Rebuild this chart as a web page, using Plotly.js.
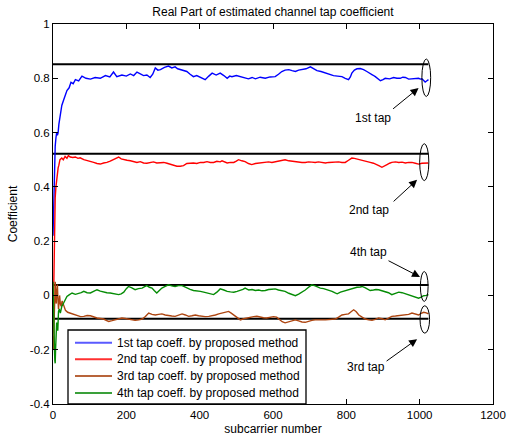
<!DOCTYPE html>
<html>
<head>
<meta charset="utf-8">
<script src="https://cdn.plot.ly/plotly-3.0.1.min.js"></script>
<style>html,body{margin:0;padding:0;background:#fff;}#chart{width:507px;height:440px;}</style>
</head>
<body>
<div id="chart"></div>
<script>
// ---- data ----
const seriesNames = ["1st tap coeff. by proposed method","2nd tap coeff. by proposed method","3rd tap coeff. by proposed method","4th tap coeff. by proposed method"];

const tap1X = [0,1,2,3,4,5,6,8,10,12,14,16,20,24,29,34,38,44,49,55,61,70,79,90,102,115,129,143,155,165,174,188,200,211,220,229,238,247,256,265,272,279,286,293,304,315,324,333,340,347,356,365,374,383,392,402,408,415,425,434,445,456,466,475,482,488,500,511,522,533,543,552,565,579,592,606,615,624,633,643,652,661,670,679,690,702,711,720,731,743,754,765,776,788,797,806,811,815,822,829,838,847,856,865,872,879,886,893,900,906,918,929,938,947,954,961,970,979,988,997,1002,1006,1011,1015,1019,1024];
const tap1Y = [0.22,0.28,0.34,0.42,0.47,0.52,0.55,0.58,0.6,0.59,0.6,0.63,0.67,0.7,0.72,0.74,0.755,0.765,0.785,0.78,0.795,0.79,0.808,0.8,0.797,0.803,0.8,0.81,0.805,0.823,0.806,0.812,0.808,0.816,0.81,0.823,0.815,0.81,0.812,0.803,0.815,0.838,0.83,0.832,0.84,0.845,0.838,0.842,0.835,0.832,0.83,0.825,0.815,0.806,0.81,0.803,0.8,0.795,0.808,0.819,0.812,0.819,0.81,0.8,0.808,0.806,0.81,0.806,0.802,0.798,0.803,0.798,0.804,0.8,0.805,0.806,0.815,0.825,0.83,0.832,0.828,0.825,0.83,0.832,0.835,0.842,0.835,0.828,0.825,0.819,0.815,0.81,0.808,0.806,0.8,0.795,0.805,0.819,0.83,0.835,0.836,0.832,0.825,0.819,0.812,0.806,0.798,0.791,0.795,0.8,0.798,0.803,0.8,0.8,0.804,0.803,0.797,0.798,0.801,0.8,0.797,0.798,0.792,0.786,0.79,0.795];

const tap2X = [0,1,2,3,4,5,6,8,10,12,14,16,19,24,28,33,38,42,47,54,61,68,74,84,93,102,111,120,129,138,147,156,165,172,179,186,193,202,211,220,229,238,247,256,265,274,283,292,302,311,320,329,338,347,356,365,374,383,392,402,411,420,429,438,447,456,461,468,475,484,493,500,506,515,524,533,542,552,561,570,579,588,597,606,615,624,633,643,652,661,670,679,688,697,706,715,724,733,743,752,761,770,779,788,797,806,815,822,829,838,847,856,865,874,884,890,897,904,911,918,924,934,943,952,961,970,979,988,997,1006,1015,1024];
const tap2Y = [-0.14,-0.05,0.05,0.18,0.27,0.33,0.36,0.4,0.43,0.45,0.47,0.48,0.5,0.506,0.5,0.512,0.505,0.515,0.51,0.508,0.51,0.505,0.507,0.5,0.497,0.495,0.49,0.486,0.484,0.488,0.49,0.495,0.5,0.505,0.51,0.503,0.5,0.498,0.496,0.492,0.49,0.493,0.488,0.487,0.49,0.492,0.488,0.49,0.49,0.487,0.484,0.48,0.476,0.476,0.478,0.486,0.488,0.488,0.486,0.49,0.49,0.493,0.49,0.49,0.494,0.492,0.496,0.492,0.488,0.49,0.49,0.495,0.5,0.496,0.493,0.486,0.482,0.486,0.488,0.49,0.49,0.492,0.49,0.493,0.496,0.498,0.5,0.496,0.494,0.493,0.492,0.49,0.49,0.492,0.491,0.49,0.492,0.489,0.488,0.49,0.491,0.49,0.492,0.49,0.49,0.498,0.506,0.505,0.503,0.5,0.496,0.493,0.49,0.487,0.482,0.477,0.472,0.476,0.482,0.487,0.49,0.492,0.49,0.491,0.488,0.49,0.49,0.487,0.484,0.487,0.488,0.488];

const tap3X = [0,1,2,3,4,5,6,7,8,9,10,12,13,15,17,18,20,22,25,28,34,40,47,56,65,75,84,93,102,111,120,129,138,145,152,161,170,179,188,197,206,215,224,234,243,252,261,270,279,288,297,306,315,324,333,342,352,361,370,379,388,397,406,415,425,434,443,452,461,470,479,486,493,502,511,520,529,538,547,556,565,574,583,592,601,610,618,625,633,642,652,661,670,679,688,697,706,715,724,733,743,752,761,770,779,788,797,806,813,820,827,834,843,852,861,870,879,888,897,906,915,924,934,943,952,961,970,979,988,997,1004,1011,1018,1024];
const tap3Y = [-0.15,-0.2,-0.17,-0.1,-0.05,0.0,0.05,0.02,-0.02,-0.03,0.01,0.04,0.0,-0.05,-0.02,0.0,-0.03,-0.04,-0.02,-0.035,-0.055,-0.062,-0.065,-0.07,-0.075,-0.078,-0.077,-0.074,-0.075,-0.08,-0.083,-0.085,-0.087,-0.092,-0.096,-0.093,-0.09,-0.087,-0.083,-0.085,-0.087,-0.09,-0.092,-0.09,-0.087,-0.078,-0.065,-0.07,-0.072,-0.07,-0.068,-0.072,-0.075,-0.076,-0.077,-0.072,-0.068,-0.072,-0.077,-0.075,-0.072,-0.075,-0.077,-0.078,-0.077,-0.075,-0.072,-0.068,-0.065,-0.062,-0.059,-0.065,-0.072,-0.082,-0.09,-0.086,-0.083,-0.08,-0.078,-0.077,-0.08,-0.082,-0.083,-0.08,-0.078,-0.08,-0.088,-0.097,-0.101,-0.097,-0.092,-0.09,-0.094,-0.098,-0.099,-0.095,-0.092,-0.09,-0.091,-0.09,-0.09,-0.089,-0.088,-0.087,-0.08,-0.072,-0.07,-0.068,-0.06,-0.053,-0.06,-0.072,-0.08,-0.087,-0.09,-0.092,-0.088,-0.083,-0.086,-0.09,-0.084,-0.077,-0.076,-0.075,-0.074,-0.072,-0.07,-0.065,-0.068,-0.072,-0.066,-0.062,-0.064,-0.068];

const tap4X = [0,1,2,3,4,5,6,7,8,10,12,13,15,17,20,24,29,34,38,44,52,61,70,77,84,93,102,111,120,129,138,147,156,165,172,179,186,193,200,206,215,224,233,243,250,256,263,270,276,283,290,297,306,315,324,333,342,352,358,365,374,383,392,402,411,420,429,438,447,456,466,475,484,493,502,511,518,524,534,543,552,561,570,579,588,597,606,615,624,633,643,652,661,670,679,688,697,706,715,722,729,738,745,752,761,768,775,784,793,801,810,820,829,838,843,852,860,865,874,881,888,897,906,915,924,934,943,952,961,970,979,988,997,1004,1011,1018,1024];
const tap4Y = [0.05,-0.05,-0.1,-0.16,-0.2,-0.24,-0.25,-0.2,-0.17,-0.1,-0.12,-0.13,-0.06,-0.05,-0.065,-0.04,-0.028,-0.012,-0.004,0.002,0.009,0.004,0.006,0.01,0.015,0.01,0.009,0.014,0.021,0.016,0.012,0.01,0.009,0.006,0.004,0.003,0.006,0.012,0.025,0.033,0.028,0.021,0.025,0.027,0.032,0.036,0.03,0.027,0.018,0.009,0.018,0.027,0.033,0.039,0.035,0.033,0.036,0.036,0.032,0.027,0.022,0.018,0.017,0.015,0.012,0.009,0.006,0.003,0.012,0.024,0.02,0.015,0.013,0.012,0.015,0.018,0.022,0.027,0.02,0.022,0.018,0.02,0.017,0.018,0.022,0.023,0.024,0.02,0.018,0.015,0.008,0.002,-0.001,0.005,0.012,0.02,0.03,0.039,0.035,0.03,0.027,0.025,0.022,0.021,0.015,0.01,0.006,0.012,0.016,0.02,0.022,0.027,0.03,0.031,0.033,0.028,0.022,0.018,0.02,0.022,0.021,0.018,0.015,0.01,0.003,0.008,0.012,0.01,0.006,0.002,-0.004,-0.006,-0.01,-0.006,-0.001,0.0,0.003];

// true (reference) tap levels, drawn as black horizontal lines
const refLevels = [0.852, 0.522, 0.038, -0.086];
const refSpan = [0, 1024];

// annotation labels
const tapLabels = ["1st tap", "2nd tap", "4th tap", "3rd tap"];

const xTicks = [0,200,400,600,800,1000,1200];
const yTicks = [-0.4,-0.2,0,0.2,0.4,0.6,0.8,1];
const yTickText = ["-0.4","-0.2","0","0.2","0.4","0.6","0.8","1"];

// ---- build ----
const FONT = "Liberation Sans, Arial, Helvetica, sans-serif";
const colors = ["#0000ff", "#ff0000", "#ad4510", "#058c05"];
const legendColors = ["#5a5aff", "#ff3030", "#b8643a", "#3aa03a"];
const xs = [tap1X, tap2X, tap3X, tap4X];
const ys = [tap1Y, tap2Y, tap3Y, tap4Y];

const traces = [];
refLevels.forEach(v => {
  traces.push({x: refSpan, y: [v, v], mode: "lines", line: {color: "#000", width: 2}, showlegend: false, hoverinfo: "skip"});
});
for (let i = 0; i < 4; i++) {
  traces.push({x: xs[i], y: ys[i], mode: "lines", name: seriesNames[i], showlegend: false, line: {color: colors[i], width: 1.4}});
}

// ellipses around the curve ends: [x0, x1, y0, y1]
const ellipses = [
  [1006, 1030, 0.733, 0.871],
  [1000, 1025, 0.423, 0.559],
  [1002, 1023, -0.022, 0.088],
  [1001, 1027, -0.139, -0.038]
];
const shapes = ellipses.map(e => ({type: "circle", xref: "x", yref: "y", x0: e[0], x1: e[1], y0: e[2], y1: e[3], line: {color: "#000", width: 1}}));

// legend box (MATLAB style), in paper coordinates of the plot area
const PL = 53, PR = 493, PT = 24, PB = 404;
const px2paperX = p => (p - PL) / (PR - PL);
const py2paperY = p => (PB - p) / (PB - PT);
shapes.push({type: "rect", xref: "paper", yref: "paper", x0: px2paperX(68), x1: px2paperX(306), y0: 0, y1: py2paperY(330), fillcolor: "#fff", line: {color: "#000", width: 1.3}, layer: "above"});
const legendRows = [342.7, 359.3, 376, 393];
const annotations = [];
for (let i = 0; i < 4; i++) {
  shapes.push({type: "line", xref: "paper", yref: "paper", x0: px2paperX(75), x1: px2paperX(112), y0: py2paperY(legendRows[i]), y1: py2paperY(legendRows[i]), line: {color: legendColors[i], width: 2}, layer: "above"});
  annotations.push({x: px2paperX(115), y: py2paperY(legendRows[i]), xref: "paper", yref: "paper", xanchor: "left", yanchor: "middle", text: seriesNames[i], showarrow: false, font: {family: FONT, size: 12, color: "#000"}});
}

// arrows: head (x,y) and tail pixel offsets
const arrows = [
  {x: 997, y: 0.764, ax: -27, ay: 22},
  {x: 993, y: 0.426, ax: -25, ay: 23},
  {x: 1001, y: 0.068, ax: -33, ay: -17},
  {x: 993, y: -0.161, ax: -32, ay: 23}
];
const labelPos = [[873, 0.655], [863, 0.313], [861, 0.16], [854, -0.262]];

arrows.forEach(a => annotations.push({x: a.x, y: a.y, ax: a.ax, ay: a.ay, xref: "x", yref: "y", text: "", showarrow: true, arrowhead: 2, arrowsize: 1.6, arrowwidth: 1, arrowcolor: "#000"}));
labelPos.forEach((p, i) => annotations.push({x: p[0], y: p[1], xref: "x", yref: "y", text: tapLabels[i], showarrow: false, font: {family: FONT, size: 12, color: "#000"}}));

const axisCommon = {showline: true, linecolor: "#000", linewidth: 1, mirror: "ticks", ticks: "inside", ticklen: 5, tickcolor: "#000", showgrid: false, zeroline: false, tickfont: {family: FONT, size: 11.5, color: "#000"}};

const layout = {
  width: 507, height: 440,
  margin: {l: PL, r: 507 - PR, t: PT, b: 440 - PB},
  paper_bgcolor: "#fff", plot_bgcolor: "#fff",
  font: {family: FONT, size: 12, color: "#000"},
  title: {text: "Real Part of estimated channel tap coefficient", font: {family: FONT, size: 12, color: "#000"}, x: 0.5, xref: "paper", y: 1 - 12 / 440, yref: "container", yanchor: "middle"},
  xaxis: Object.assign({}, axisCommon, {range: [0, 1200], tickvals: xTicks, title: {text: "subcarrier number", font: {family: FONT, size: 12}, standoff: 4}}),
  yaxis: Object.assign({}, axisCommon, {range: [-0.4, 1], tickvals: yTicks, ticktext: yTickText, title: {text: "Coefficient", font: {family: FONT, size: 12}, standoff: 9}}),
  shapes: shapes,
  annotations: annotations,
  showlegend: false
};

Plotly.newPlot("chart", traces, layout, {staticPlot: true, displayModeBar: false});
</script>
</body>
</html>
